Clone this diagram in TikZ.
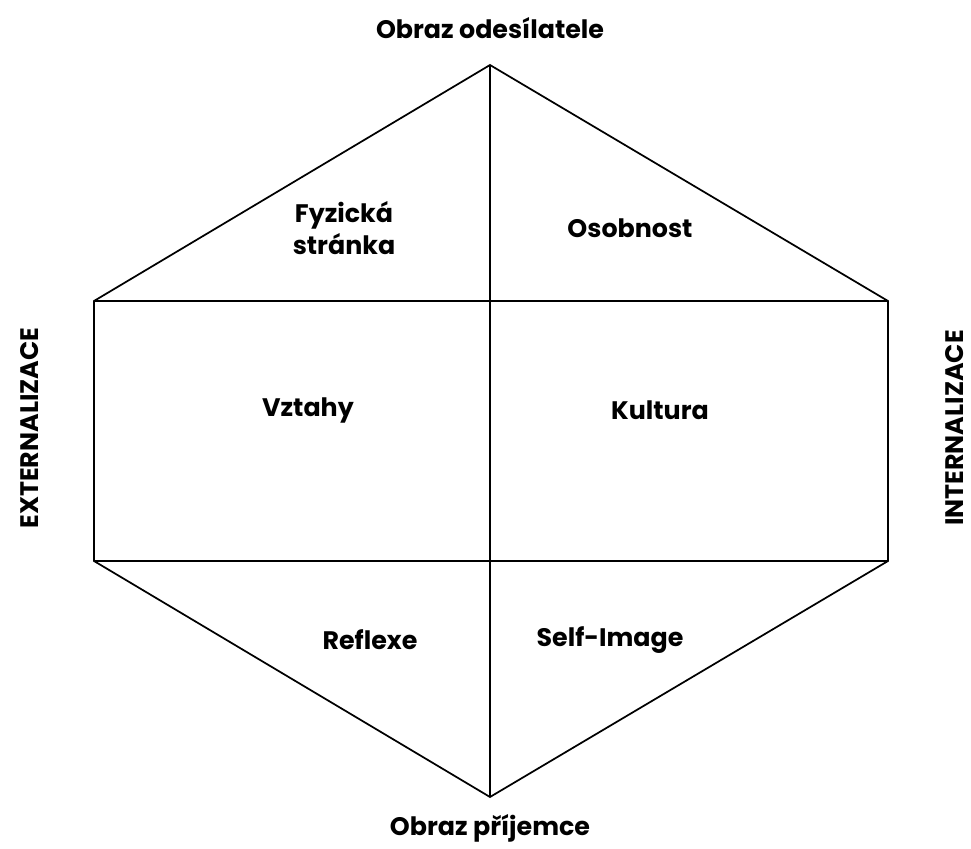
\documentclass[tikz,border=0pt]{standalone}
\usepackage{fontspec}
\setmainfont{Poppins}
\tikzset{
    edge/.style={line width=1.3pt},
    split/.style={line width=0.9pt},
    lbl/.style={font=\bfseries\fontsize{19}{24}\selectfont, align=center},
    side/.style={font=\bfseries\fontsize{19}{24}\selectfont, rotate=90, inner sep=0pt}
}
\begin{document}
\begin{tikzpicture}[x=0.75pt,y=-0.75pt]
    \useasboundingbox (0,0) rectangle (971,849);
    %Hexagon corners
    \coordinate (top) at (490,65);
    \coordinate (ul) at (94,301);
    \coordinate (ur) at (888,301);
    \coordinate (ll) at (94,561);
    \coordinate (lr) at (888,561);
    \coordinate (bot) at (490,797);
    %Outline
    \draw[edge] (top) -- (ur) -- (lr) -- (bot) -- (ll) -- (ul) -- cycle;
    %Dividers
    \draw[split] (top) -- (bot);
    \draw[split] (ul) -- (ur);
    \draw[split] (ll) -- (lr);
    %Poles
    \node[lbl] (sender) at (490,28) {Obraz odesílatele};
    \node[lbl] (receiver) at (490,828) {Obraz příjemce};
    \node[side] (ext) at (30,428) {EXTERNALIZACE};
    \node[side] (int) at (955,428) {INTERNALIZACE};
    %Facets
    \node[lbl] (phys) at (344,228) {Fyzická\\stránka};
    \node[lbl] (pers) at (630,228) {Osobnost};
    \node[lbl] (rel) at (308,410) {Vztahy};
    \node[lbl] (cult) at (660,410) {Kultura};
    \node[lbl] (refl) at (370,640) {Reflexe};
    \node[lbl] (self) at (610,640) {Self-Image};
\end{tikzpicture}
\end{document}
